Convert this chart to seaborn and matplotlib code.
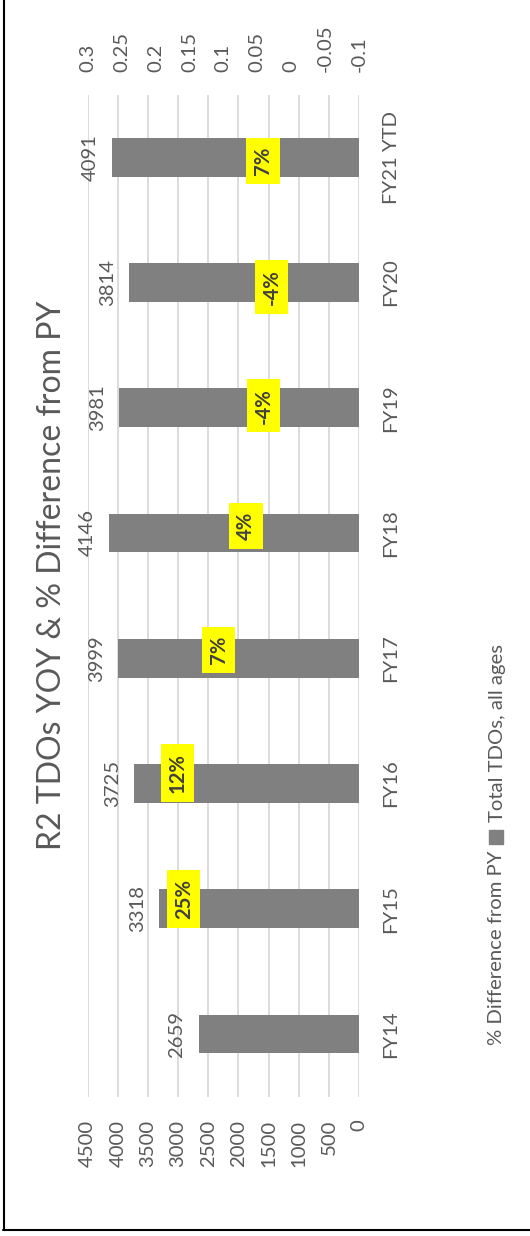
import matplotlib
matplotlib.use("Agg")
import matplotlib.pyplot as plt
import seaborn as sns
import pandas as pd
from matplotlib.patches import Rectangle
from matplotlib.lines import Line2D

# ---- data -------------------------------------------------------------
categories = ["FY14", "FY15", "FY16", "FY17", "FY18", "FY19", "FY20", "FY21 YTD"]
total_tdos = [2659, 3318, 3725, 3999, 4146, 3981, 3814, 4091]
primary_ticks = [0, 500, 1000, 1500, 2000, 2500, 3000, 3500, 4000, 4500]
secondary_ticks = [-0.1, -0.05, 0, 0.05, 0.1, 0.15, 0.2, 0.25, 0.3]
secondary_labels = ["-0.1", "-0.05", "0", "0.05", "0.1", "0.15", "0.2", "0.25", "0.3"]
series_names = ["Total TDOs, all ages", "% Difference from PY"]
title = "R2 TDOs YOY & % Difference from PY"

# year-over-year change, derived from the totals
pct_diff = [None] + [cur / prev - 1 for prev, cur in zip(total_tdos[:-1], total_tdos[1:])]

# where each % label box sits: (position along the value axis, shift across the bar)
pct_label_at = {
    "FY15": (2906, -0.078), "FY16": (3005, -0.085), "FY17": (2325, -0.064),
    "FY18": (1874, -0.057), "FY19": (1579, -0.016), "FY20": (1446, 0.036),
    "FY21 YTD": (1592, 0.030),
}

# ---- style ------------------------------------------------------------
sns.set_style("white")
plt.rcParams["font.family"] = ["Lato", "DejaVu Sans"]
TXT = "#595959"
BAR = "#808080"
GRID = "#D9D9D9"
FS = 14.6

W, H = 530, 1236
fig = plt.figure(figsize=(W / 100, H / 100), dpi=100)
L, R, T, B = 87.7, 359.0, 94.5, 1096.7
ax = fig.add_axes([L / W, 1 - B / H, (R - L) / W, (B - T) / H])

df = pd.DataFrame({"category": categories, "total": total_tdos})
order = categories[::-1]  # newest at the top of the rotated layout
sns.barplot(data=df, x="total", y="category", order=order, orient="h",
            color=BAR, saturation=1, width=0.31, ax=ax, edgecolor="none")

ax.set_xlim(4500, 0)
ax.set_ylim(len(order) - 0.5, -0.5)
ax.set_xticks(primary_ticks)
ax.set_xticklabels([str(t) for t in primary_ticks], rotation=90)
ax.tick_params(axis="x", length=0, pad=16.5, labelsize=FS, labelcolor=TXT)
ax.set_yticks(range(len(order)))
ax.set_yticklabels(order, rotation=90, va="center", ha="left")
ax.yaxis.tick_right()
ax.tick_params(axis="y", length=0, pad=17, labelsize=FS, labelcolor=TXT,
               left=False, right=False, labelleft=False, labelright=True)
ax.set_xlabel("")
ax.set_ylabel("")
ax.grid(axis="x", color=GRID, lw=1.3)
ax.grid(axis="y", visible=False)
ax.set_axisbelow(True)
for s in ax.spines.values():
    s.set_visible(False)

# value labels at the bar ends
ax.bar_label(ax.containers[0], fmt="%d", padding=9.5, rotation=90,
             fontsize=FS, color=TXT)

# secondary axis for the % series
ax2 = ax.twiny()
ax2.set_xlim(0.3, -0.1)
ax2.set_xticks(secondary_ticks)
ax2.set_xticklabels(secondary_labels, rotation=90)
ax2.tick_params(axis="x", length=0, pad=16.5, labelsize=FS, labelcolor=TXT,
                top=False, bottom=False, labeltop=True, labelbottom=False)
for s in ax2.spines.values():
    s.set_visible(False)
ax2.grid(False)

# % difference labels (wider margin along the text than across it)
for cat, pct in zip(categories, pct_diff):
    if pct is None:
        continue
    xv, dy = pct_label_at[cat]
    ax.text(xv, order.index(cat) + dy, f"{round(pct * 100):.0f}%", rotation=90,
            ha="center", va="center", fontsize=FS, fontweight="bold",
            color="#404040", zorder=5,
            bbox=dict(boxstyle="square,pad=0.44", mutation_aspect=0.74,
                      fc="#FFFF00", ec="none"))

# title
fig.text(52 / W, 1 - 575 / H, title, rotation=90, ha="center", va="center",
         fontsize=23, color=TXT)

# legend, drawn in the rotated frame
fig.add_artist(Rectangle((489 / W, 1 - 844 / H), 14 / W, 14 / H,
                         transform=fig.transFigure, color=BAR))
fig.text(497 / W, 1 - 821.5 / H, series_names[0], rotation=90, ha="center",
         va="bottom", fontsize=FS, color=TXT)
fig.text(497 / W, 1 - 1045 / H, series_names[1], rotation=90, ha="center",
         va="bottom", fontsize=FS, color=TXT)

# chart frame
fig.add_artist(Line2D([3.7 / W, 3.7 / W], [1.01, 1 - 1229.5 / H],
                      transform=fig.transFigure, color="black", lw=1.5))
fig.add_artist(Line2D([3.0 / W, 1.01], [1 - 1229.5 / H, 1 - 1229.5 / H],
                      transform=fig.transFigure, color="black", lw=1.5))

fig.savefig("out.png", dpi=100, facecolor="white")
